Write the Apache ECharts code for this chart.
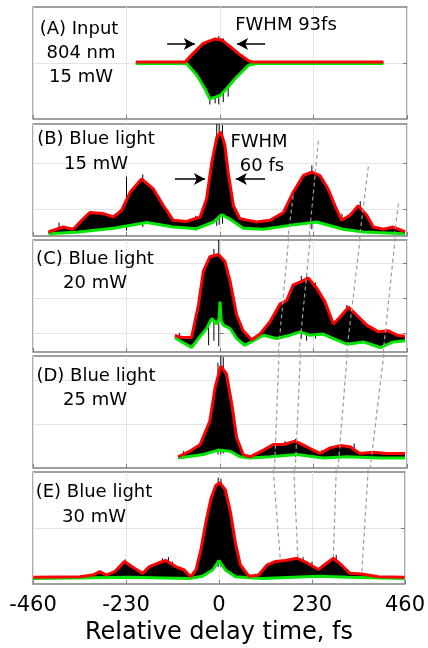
<!DOCTYPE html>
<html>
<head>
<meta charset="utf-8">
<title>Autocorrelation traces</title>
<script src="https://cdn.jsdelivr.net/npm/echarts@6/dist/echarts.min.js"></script>
<style>
  html, body { margin: 0; padding: 0; background: #fff; }
  #chart { width: 428px; height: 648px; }
</style>
</head>
<body>
<div id="chart"></div>
<script>
// x axis: relative delay (fs)
const delayTicks = [-460, -230, 0, 230, 460];
const xTitle = "Relative delay time, fs";

// envelopes: [delay fs, level in % of panel height]
const upperA = [[-207, 50.8], [-86, 50.8], [-66, 58.6], [-41, 67.6], [-12, 71.5], [4, 70.6], [25, 64.6], [45, 58.6], [70, 52], [82, 50.8], [402, 50.8]];
const lowerA = [[-207, 49.5], [-82, 49.5], [-57, 39], [-37, 27], [-25, 18], [-12, 19.5], [0, 21], [16, 27], [41, 37.5], [70, 48], [90, 49.5], [402, 49.5]];

const upperB = [[-422, 3.6], [-386, 8], [-361, 6], [-336, 15.5], [-320, 21], [-287, 20], [-262, 17], [-242, 23], [-221, 39], [-193, 51], [-164, 42], [-139, 27], [-115, 14], [-82, 13], [-49, 17], [-33, 33], [-20, 66], [-8, 88], [2, 93], [12, 81], [20, 57], [33, 27], [49, 15.5], [90, 12.5], [123, 14], [156, 21], [180, 39], [205, 54], [226, 57], [246, 54], [266, 42], [283, 27], [299, 14], [320, 18.5], [340, 27], [361, 18.5], [377, 8], [402, 6], [426, 8], [447, 5], [455, 3.6]];
const lowerB = [[-422, 2], [-348, 3.6], [-262, 7], [-180, 12], [-115, 8], [-57, 6.5], [-16, 12.5], [4, 19], [25, 15], [57, 7], [107, 6], [172, 9.5], [238, 12.5], [303, 6], [353, 3.6], [455, 2]];

const upperC = [[-111, 14.7], [-94, 13], [-70, 13], [-53, 42], [-41, 72], [-25, 85], [-4, 87], [12, 81], [25, 63], [41, 33], [57, 19], [78, 11], [98, 16], [123, 27], [148, 43], [164, 46], [180, 60], [201, 63], [217, 66], [238, 57], [258, 45], [279, 25], [295, 31], [316, 40], [336, 33], [361, 24], [390, 18], [414, 19], [435, 15], [455, 14]];
const lowerC = [[-111, 13], [-94, 9], [-70, 4], [-53, 12], [-33, 21], [-20, 30], [-8, 25], [-2, 30], [0, 45], [3, 28], [8, 24], [25, 21], [41, 12], [61, 6], [82, 10], [107, 15], [139, 12], [172, 15], [197, 18], [221, 15], [254, 16], [279, 12], [312, 7], [353, 9], [394, 4], [426, 9], [455, 10]];

const upperD = [[-103, 10], [-74, 15], [-49, 21], [-25, 42], [-12, 72], [2, 91], [16, 84], [29, 57], [41, 27], [57, 12], [74, 10], [107, 16], [131, 21], [156, 21], [185, 24], [213, 19], [246, 13], [271, 18], [295, 20], [320, 19], [344, 13], [377, 14], [410, 13], [455, 13]];
const lowerD = [[-103, 9], [-41, 12], [-4, 16], [25, 15], [49, 10], [74, 9], [123, 10], [189, 12], [254, 9], [312, 10], [394, 9], [455, 9]];

const upperE = [[-459, 6], [-344, 6.5], [-312, 8], [-295, 11], [-279, 8], [-258, 11], [-234, 20], [-209, 14], [-189, 9.5], [-172, 15.5], [-152, 18.5], [-131, 21], [-107, 15.5], [-86, 12.5], [-70, 6.5], [-57, 12.5], [-45, 30], [-33, 54], [-20, 76], [-8, 88], [2, 90.5], [16, 84], [29, 63], [41, 36], [53, 17], [74, 7], [98, 8], [119, 17], [139, 20], [164, 21], [193, 23], [217, 19], [246, 13], [266, 18.5], [283, 23], [303, 17], [324, 9.5], [353, 9], [394, 6.5], [459, 6]];
const lowerE = [[-459, 5], [-221, 6], [-74, 5], [-41, 7], [-16, 12.5], [0, 21], [16, 12.5], [41, 6.5], [107, 5], [246, 7], [320, 6], [459, 5]];

// fringe spikes sticking out of the envelopes: [delay, from, to]
const spikesA = [[-25, 13, 62], [-12, 14, 72], [-3, 13, 74], [8, 15, 72], [20, 20, 66]];
const spikesB = [[-8, 9, 100], [-2, 10, 101], [6, 11, 99], [-396, 2, 12], [-230, 5, 53], [-190, 8, 55], [226, 6, 63], [345, 4, 31], [300, 6, 20], [-60, 5, 18]];
const spikesC = [[-3, 5, 101], [-15, 10, 92], [-28, 6, 84], [200, 12, 68], [213, 10, 70], [235, 12, 62], [312, 8, 42], [-100, 10, 17]];
const spikesD = [[2, 12, 101], [8, 13, 99], [-5, 12, 94], [-90, 8, 15], [186, 10, 26], [160, 10, 24], [330, 9, 22], [250, 9, 16]];
const spikesE = [[-2, 15, 95], [5, 15, 94], [-232, 6, 22], [-140, 6, 23], [-125, 7, 24], [-115, 6, 20], [208, 7, 24], [230, 7, 20], [290, 8, 26]];

// y tick positions (unlabelled)
const yTicksA = [50];
const yTicksB = [24, 65];
const yTicksC = [17, 48, 79];
const yTicksD = [39, 78];
const yTicksE = [50];

// dashed guide lines following the satellite pulses
const tracksB = [[[180, 36], [167, -2]], [[242, 85], [219, -2]], [[365, 62], [343, -2]], [[439, 29], [428, -2]]];
const tracksC = [[[169, 102], [143, -2]], [[222, 102], [194, -2]], [[345, 102], [311, -2]], [[431, 102], [401, -2]]];
const tracksD = [[[145, 102], [134, -2]], [[198, 102], [185, -2]], [[313, 102], [290, -2]], [[403, 102], [369, -2]]];
const tracksE = [[[134, 102], [152, 21]], [[185, 102], [195, 24]], [[290, 102], [283, 24]], [[369, 102], [353, 9.5]]];

// FWHM arrows
const arrowsA = [[[-130, 67], [-62, 67]], [[111, 67], [42, 67]]];
const arrowsB = [[[-111, 51], [-37, 51]], [[111, 51], [39, 51]]];

const panels = [
  { upper: upperA, lower: lowerA, spikes: spikesA, yTicks: yTicksA, tracks: [], arrows: arrowsA },
  { upper: upperB, lower: lowerB, spikes: spikesB, yTicks: yTicksB, tracks: tracksB, arrows: arrowsB },
  { upper: upperC, lower: lowerC, spikes: spikesC, yTicks: yTicksC, tracks: tracksC, arrows: [] },
  { upper: upperD, lower: lowerD, spikes: spikesD, yTicks: yTicksD, tracks: tracksD, arrows: [] },
  { upper: upperE, lower: lowerE, spikes: spikesE, yTicks: yTicksE, tracks: tracksE, arrows: [] },
];

const tops = [7, 124, 240, 356, 472];
const font = "DejaVu Sans";
const gridColor = "#e4e4e4";
const frameColor = "#808080";

const labels = [
  { text: "(A) Input", x: 79, y: 29 },
  { text: "804 nm", x: 81, y: 53 },
  { text: "15 mW", x: 81, y: 77 },
  { text: "FWHM 93fs", x: 286, y: 25 },
  { text: "(B) Blue light", x: 96, y: 139 },
  { text: "15 mW", x: 96, y: 164 },
  { text: "FWHM", x: 259, y: 142 },
  { text: "60 fs", x: 262, y: 166 },
  { text: "(C) Blue light", x: 95, y: 259 },
  { text: "20 mW", x: 95, y: 283 },
  { text: "(D) Blue light", x: 96, y: 376 },
  { text: "25 mW", x: 95, y: 400 },
  { text: "(E) Blue light", x: 94, y: 492 },
  { text: "30 mW", x: 94, y: 517 },
];

function bandRenderer(upper, lower) {
  return function (params, api) {
    if (params.dataIndex !== 0) {
      return null;
    }
    const pts = upper.map((p) => api.coord(p)).concat(lower.slice().reverse().map((p) => api.coord(p)));
    return { type: "polygon", shape: { points: pts }, style: { fill: "#000" } };
  };
}

function spikeRenderer(params, api) {
  const a = api.coord([api.value(0), api.value(1)]);
  const b = api.coord([api.value(0), api.value(2)]);
  return {
    type: "line",
    shape: { x1: a[0], y1: a[1], x2: b[0], y2: b[1] },
    style: { stroke: "#000", lineWidth: 1 },
  };
}

const grid = [];
const xAxis = [];
const yAxis = [];
const series = [];

panels.forEach((p, i) => {
  const last = i === panels.length - 1;
  grid.push({
    left: 33, width: 374, top: tops[i], height: 112,
    show: true, borderColor: frameColor, borderWidth: 1.3, backgroundColor: "#fff",
  });
  xAxis.push({
    gridIndex: i, type: "value", min: delayTicks[0], max: delayTicks[delayTicks.length - 1], interval: 230,
    axisLine: { show: false },
    axisTick: { show: true, inside: true, length: 4, lineStyle: { color: frameColor } },
    axisLabel: { show: last, color: "#000", fontSize: 21, fontFamily: font, margin: 11 },
    splitLine: { show: true, lineStyle: { color: gridColor, width: 1 } },
    name: last ? xTitle : "",
    nameLocation: "middle",
    nameGap: 37,
    nameTextStyle: { color: "#000", fontSize: 24, fontFamily: font },
  });
  ["left", "right"].forEach((side) => {
    yAxis.push({
      gridIndex: i, type: "value", min: 0, max: 100, position: side,
      axisLine: { show: false },
      axisLabel: { show: false },
      axisTick: { show: true, inside: true, length: 4, customValues: p.yTicks, lineStyle: { color: frameColor } },
      splitLine: { show: side === "left", lineStyle: { color: gridColor, width: 1 } },
    });
  });
  const yi = 2 * i;
  series.push({
    type: "custom", xAxisIndex: i, yAxisIndex: yi, silent: true, z: 2,
    data: [p.upper[0]], renderItem: bandRenderer(p.upper, p.lower),
  });
  series.push({
    type: "custom", xAxisIndex: i, yAxisIndex: yi, silent: true, z: 2, clip: true,
    data: p.spikes, encode: { x: 0, y: [1, 2] }, renderItem: spikeRenderer,
  });
  series.push({
    type: "line", xAxisIndex: i, yAxisIndex: yi, silent: true, z: 3,
    data: p.lower, showSymbol: false, symbol: "none",
    lineStyle: { color: "#00e600", width: 3 },
  });
  series.push({
    type: "line", xAxisIndex: i, yAxisIndex: yi, silent: true, z: 4,
    data: p.upper, showSymbol: false, symbol: "none",
    lineStyle: { color: "#ff0000", width: 3 },
    markLine: {
      silent: true, symbol: ["none", "arrow"], symbolSize: [9, 11],
      label: { show: false },
      lineStyle: { color: "#000", width: 1.5, type: "solid" },
      data: p.arrows.map((a) => [{ coord: a[0] }, { coord: a[1] }]),
    },
  });
  p.tracks.forEach((t) => {
    series.push({
      type: "line", xAxisIndex: i, yAxisIndex: yi, silent: true, z: 5, clip: false,
      data: t, showSymbol: false, symbol: "none",
      lineStyle: { color: "#9c9c9c", width: 1.2, type: [4, 3] },
    });
  });
});

const chart = echarts.init(document.getElementById("chart"));
chart.setOption({
  animation: false,
  backgroundColor: "#fff",
  textStyle: { fontFamily: font },
  grid: grid,
  xAxis: xAxis,
  yAxis: yAxis,
  series: series,
  graphic: labels.map((l) => ({
    type: "text", x: l.x, y: l.y, z: 100, silent: true,
    style: { text: l.text, fill: "#000", font: "18px '" + font + "'", align: "center", verticalAlign: "middle" },
  })),
});
window.addEventListener("resize", () => chart.resize());
</script>
</body>
</html>
